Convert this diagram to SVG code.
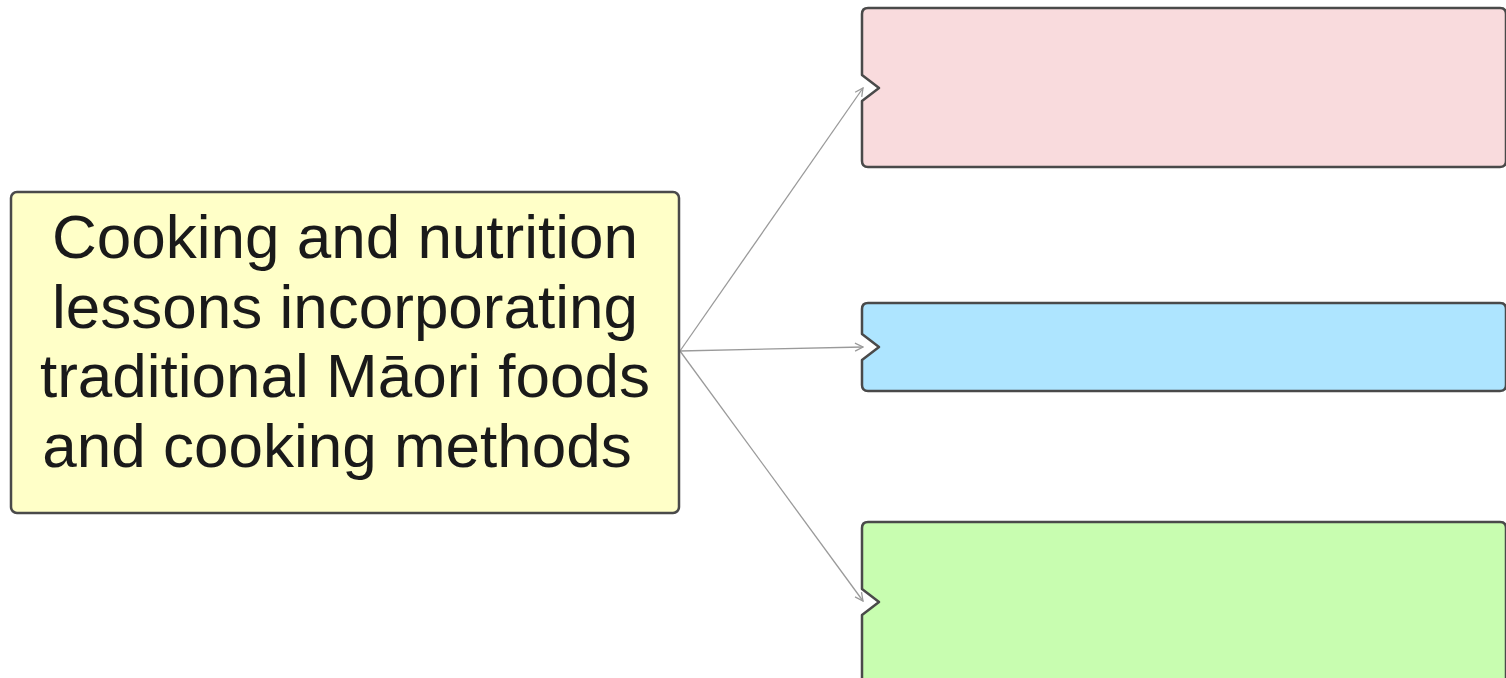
<svg xmlns="http://www.w3.org/2000/svg" width="1506" height="678" viewBox="0 0 1506 678">
<defs>
<style>
.node{stroke:#4a4a4a;stroke-width:2.5;stroke-linejoin:round}
.lbl{font-family:"Liberation Sans",Arial,sans-serif;font-size:62px;fill:#1a1a1a;text-anchor:middle}
.conn{stroke:#9a9a9a;stroke-width:1.3;fill:none}
</style>
<marker id="arr" viewBox="0 0 10 10" refX="9" refY="5" markerWidth="10" markerHeight="10" markerUnits="userSpaceOnUse" orient="auto">
<path d="M1,1 L9,5 L1,9" fill="none" stroke="#9a9a9a" stroke-width="1.3"/>
</marker>
</defs>
<rect width="1506" height="678" fill="#ffffff"/>
<g id="connectors">
<line class="conn" x1="680" y1="351" x2="863" y2="88" marker-end="url(#arr)"/>
<line class="conn" x1="680" y1="351" x2="863" y2="347" marker-end="url(#arr)"/>
<line class="conn" x1="680" y1="351" x2="863" y2="601" marker-end="url(#arr)"/>
</g>
<g id="main">
<rect class="node" x="11" y="192" width="668" height="321" rx="6" fill="#ffffc8"/>
<text class="lbl" x="345" y="258">Cooking and nutrition</text>
<text class="lbl" x="345" y="328">lessons incorporating</text>
<text class="lbl" x="345" y="397">traditional Māori foods</text>
<text class="lbl" x="337" y="467">and cooking methods</text>
</g>
<g id="pink">
<path class="node" fill="#f9dbdd" d="M868,8 H1500 Q1506,8 1506,14 V161 Q1506,167 1500,167 H868 Q862,167 862,161 V101 L879,88 L862,75 V14 Q862,8 868,8 Z"/>
</g>
<g id="blue">
<path class="node" fill="#aee5ff" d="M868,303 H1500 Q1506,303 1506,309 V385 Q1506,391 1500,391 H868 Q862,391 862,385 V360 L879,347 L862,334 V309 Q862,303 868,303 Z"/>
</g>
<g id="green">
<path class="node" fill="#c8fdb0" d="M868,522 H1500 Q1506,522 1506,528 V690 H862 V615 L879,602 L862,589 V528 Q862,522 868,522 Z"/>
</g>
</svg>
